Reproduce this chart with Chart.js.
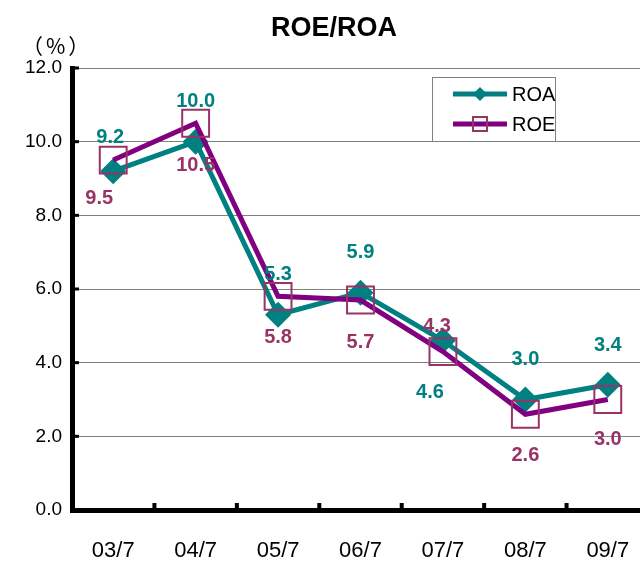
<!DOCTYPE html>
<html>
<head>
<meta charset="utf-8">
<script src="https://cdn.jsdelivr.net/npm/chart.js@4"></script>
<style>
html, body { margin: 0; padding: 0; overflow: hidden; background: #fff; }
#wrap { position: absolute; left: 0; top: 0; }
</style>
</head>
<body>
<div id="wrap"><canvas id="myChart" width="649" height="561"></canvas></div>
<script>
const categories = ['03/7', '04/7', '05/7', '06/7', '07/7', '08/7', '09/7']
const roa = [9.2, 10.0, 5.3, 5.9, 4.6, 3.0, 3.4]
const roe = [9.5, 10.5, 5.8, 5.7, 4.3, 2.6, 3.0]
const yTicks = [0, 2, 4, 6, 8, 10, 12]

// label nudges [dx, dy] relative to each point
const roaLabelShift = [[-3, -34], [0, -40], [0, -40], [0, -40], [-13, 52], [0, -40], [0, -39]]
const roeLabelShift = [[-14, 38], [0, 42], [0, 41], [0, 42], [-6, -25], [0, 41], [0, 40]]

const TEAL = '#008080'
const PURPLE = '#800080'
const MAROON = '#993366'
const FONT = '"Liberation Sans", Arial, sans-serif'

const extras = {
    id: 'extras',
    afterDatasetsDraw(chart) {
        const ctx = chart.ctx
        const area = chart.chartArea
        const x = chart.scales.x
        const y = chart.scales.y
        ctx.save()

        // little inner ticks
        ctx.fillStyle = '#000'
        for (const v of yTicks) {
            const py = y.getPixelForValue(v)
            ctx.fillRect(area.left, py - 1.5, 7, 3)
        }
        for (let i = 1; i < categories.length; i++) {
            const px = x.getPixelForValue(i - 0.5)
            ctx.fillRect(px - 2, area.bottom - 7, 4, 5)
        }

        // value labels
        ctx.font = 'bold 20px ' + FONT
        ctx.textAlign = 'center'
        ctx.textBaseline = 'middle'
        const sets = [[0, roa, roaLabelShift, TEAL], [1, roe, roeLabelShift, MAROON]]
        for (const [di, vals, shift, col] of sets) {
            const meta = chart.getDatasetMeta(di)
            ctx.fillStyle = col
            meta.data.forEach((pt, i) => {
                ctx.fillText(vals[i].toFixed(1), pt.x + shift[i][0], pt.y + shift[i][1])
            })
        }

        // title
        ctx.fillStyle = '#000'
        ctx.font = 'bold 27px ' + FONT
        ctx.fillText('ROE/ROA', 334, 29)

        // unit
        ctx.font = '21px "Noto Sans CJK JP", sans-serif'
        ctx.textAlign = 'left'
        ctx.letterSpacing = '3px'
        ctx.fillText('（%）', 22, 46)
        ctx.letterSpacing = '0px'

        // legend
        ctx.fillStyle = '#fff'
        ctx.fillRect(432, 77, 124, 64)
        ctx.strokeStyle = '#808080'
        ctx.lineWidth = 1
        ctx.strokeRect(432.5, 77.5, 123, 64)

        ctx.lineWidth = 5
        ctx.strokeStyle = TEAL
        ctx.beginPath(); ctx.moveTo(453, 94); ctx.lineTo(507, 94); ctx.stroke()
        ctx.fillStyle = TEAL
        ctx.beginPath()
        ctx.moveTo(480, 87); ctx.lineTo(487, 94); ctx.lineTo(480, 101); ctx.lineTo(473, 94)
        ctx.closePath(); ctx.fill()

        ctx.strokeStyle = PURPLE
        ctx.beginPath(); ctx.moveTo(453, 124); ctx.lineTo(507, 124); ctx.stroke()
        ctx.strokeStyle = MAROON
        ctx.lineWidth = 2
        ctx.strokeRect(473, 117, 14, 14)

        ctx.fillStyle = '#000'
        ctx.font = '20px ' + FONT
        ctx.textBaseline = 'middle'
        ctx.fillText('ROA', 512, 95)
        ctx.fillText('ROE', 512, 125)
        ctx.restore()
    }
}

const ctx = document.getElementById('myChart').getContext('2d')
const myChart = new Chart(ctx, {
    type: 'line',
    data: {
        labels: categories,
        datasets: [{
            label: 'ROA',
            data: roa,
            borderColor: TEAL,
            borderWidth: 5,
            pointStyle: 'rectRot',
            pointRadius: 13,
            pointBackgroundColor: TEAL,
            pointBorderColor: TEAL,
            pointBorderWidth: 0,
            tension: 0,
            order: 2
        }, {
            label: 'ROE',
            data: roe,
            borderColor: PURPLE,
            borderWidth: 5,
            pointStyle: 'rect',
            pointRadius: 19,
            pointBackgroundColor: 'rgba(0,0,0,0)',
            pointBorderColor: MAROON,
            pointBorderWidth: 2,
            tension: 0,
            order: 1
        }]
    },
    options: {
        responsive: false,
        animation: false,
        layout: { autoPadding: false, padding: { top: 68, left: 0, right: 0, bottom: 0 } },
        plugins: {
            legend: { display: false },
            title: { display: false },
            tooltip: { enabled: false }
        },
        scales: {
            x: {
                offset: true,
                grid: { display: false, drawTicks: false },
                border: { color: '#000', width: 5 },
                ticks: {
                    padding: 28,
                    color: '#000',
                    font: { family: FONT, size: 22 }
                },
                afterFit: s => { s.height = 51; s.paddingLeft = 0; s.paddingRight = 0 }
            },
            y: {
                min: 0,
                max: 12,
                afterBuildTicks: s => { s.ticks = yTicks.map(v => ({ value: v })) },
                grid: { color: '#808080', lineWidth: 1, drawTicks: false },
                border: { color: '#000', width: 5 },
                ticks: {
                    padding: 10,
                    color: '#000',
                    font: { family: FONT, size: 19 },
                    callback: v => v.toFixed(1)
                },
                afterFit: s => { s.width = 72 }
            }
        }
    },
    plugins: [extras]
})
</script>
</body>
</html>
